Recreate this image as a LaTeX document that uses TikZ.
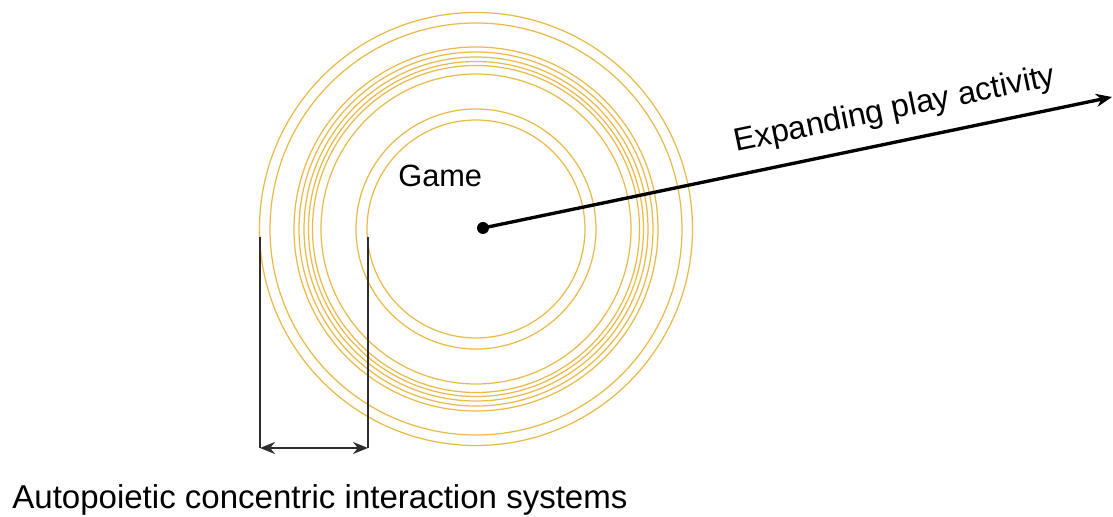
\documentclass[tikz,border=0pt]{standalone}
\usepackage{fontspec}
\setmainfont{Liberation Sans}
\usetikzlibrary{arrows.meta}
\definecolor{ringcol}{RGB}{233,186,74}
\definecolor{bracketcol}{RGB}{45,45,45}

\begin{document}
\begin{tikzpicture}[
      ring/.style={draw=ringcol, line width=0.7pt},
      txt/.style={font=\fontsize{18.3}{21}\selectfont, inner sep=0pt},
      bracket/.style={draw=bracketcol, line width=1.2pt}
  ]
  \useasboundingbox (-9.52,-5.76) rectangle (12.74,4.58);

  \foreach \r in {4.33,4.12,3.64,3.54,3.44,3.35,3.27,3.10,2.40,2.18}
      \draw[ring] (0,0) circle (\r);

  \node[circle, fill, inner sep=0pt, minimum size=0.24cm] (centre) at (0.14,0.02) {};
  \coordinate (tip) at (12.72,2.64);
  \draw[-{Stealth[length=0.32cm, width=0.26cm]}, line width=1.9pt] (centre.center) -- (tip);

  \node[txt, anchor=base west, rotate=11.7] (expand) at (5.2,1.55) {Expanding play activity};
  \node[txt, anchor=base west, font=\fontsize{17.5}{20}\selectfont] (game) at (-1.56,0.84) {Game};

  % width of the ring band
  \coordinate (outtop) at (-4.32,-0.16);
  \coordinate (intop) at (-2.16,-0.16);
  \coordinate (outbot) at (-4.32,-4.38);
  \coordinate (inbot) at (-2.16,-4.38);
  \draw[bracket] (outtop) -- (outbot);
  \draw[bracket] (intop) -- (inbot);
  \draw[bracket, {Stealth[length=0.3cm, width=0.24cm]}-{Stealth[length=0.3cm, width=0.24cm]}] (outbot) -- (inbot);

  \node[txt, anchor=base west, font=\fontsize{18.8}{22}\selectfont] (systems) at (-9.28,-5.58) {Autopoietic concentric interaction systems};
\end{tikzpicture}
\end{document}
